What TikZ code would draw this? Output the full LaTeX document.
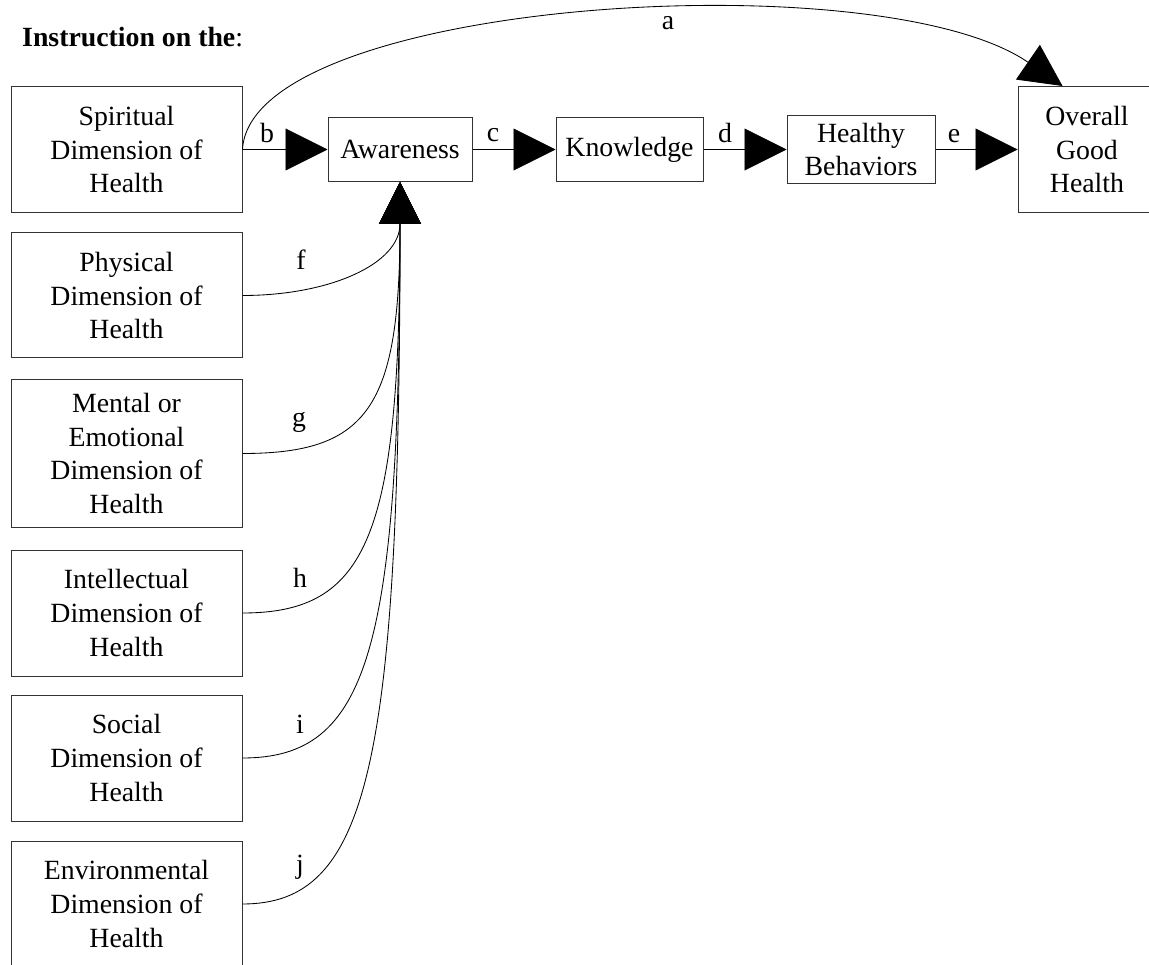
\documentclass[tikz,border=0pt]{standalone}
\usepackage{fontspec}
\setmainfont{Liberation Serif}
\usetikzlibrary{arrows.meta,calc}
\begin{document}
\begin{tikzpicture}[x=1pt,y=-1pt,
  txt/.style={font=\fontsize{27.8}{33.6}\selectfont},
  box/.style={txt, draw=black!80, line width=1pt, align=center, inner sep=0pt},
  lbl/.style={txt, inner sep=0pt, anchor=base},
  conn/.style={line width=0.85pt, -{Triangle[length=42pt,width=42pt]}}]
\useasboundingbox (0,0) rectangle (1149,965);
\clip (0,0) rectangle (1149,965);

% title
\node[txt, inner sep=0pt, anchor=base west] (title) at (22,47) {\textbf{Instruction on the}:};

% left column
\node[box, minimum width=231pt, minimum height=126pt] (spirit) at (126.5,149.5) {Spiritual\\Dimension of\\Health};
\node[box, minimum width=231pt, minimum height=125pt] (phys) at (126.5,295.5) {Physical\\Dimension of\\Health};
\node[box, minimum width=231pt, minimum height=147pt] (mental) at (126.5,453.5) {Mental or\\Emotional\\Dimension of\\Health};
\node[box, minimum width=231pt, minimum height=126pt] (intel) at (126.5,613) {Intellectual\\Dimension of\\Health};
\node[box, minimum width=231pt, minimum height=126pt] (social) at (126.5,758) {Social\\Dimension of\\Health};
\node[box, minimum width=231pt, minimum height=126pt] (env) at (126.5,904) {Environmental\\Dimension of\\Health};

% top row
\node[box, minimum width=144pt, minimum height=64pt] (aware) at (400,149.5) {Awareness};
\node[box, minimum width=147pt, minimum height=64pt] (know) at (629.5,149.5) {Knowledge};
\node[box, minimum width=148pt, minimum height=68pt] (hb) at (861,149.5) {Healthy\\Behaviors};
\node[box, minimum width=138pt, minimum height=126pt] (over) at (1087,149.5) {Overall\\Good\\Health};

% horizontal connectors
\draw[conn] (spirit.east) -- (aware.west);
\draw[conn] (aware.east) -- (know.west);
\draw[conn] (know.east) -- (hb.west);
\draw[conn] (hb.east) -- (over.west);

% arc a
\coordinate (atip) at ($(over.north west)+(45,0)$);
\draw[conn] (spirit.east) .. controls ($(spirit.east)+(8,-150)$) and ($(atip)+(-183,-126)$) .. (atip);

% curves into awareness
\draw[conn] (phys.east) .. controls ($(phys.east)+(87,0)$) and ($(aware.south)+(0,82)$) .. (aware.south);
\draw[conn] (mental.east) .. controls ($(mental.east)+(126,0)$) and ($(aware.south)+(0,225)$) .. (aware.south);
\draw[conn] (intel.east) .. controls ($(intel.east)+(126,0)$) and ($(aware.south)+(0,353)$) .. (aware.south);
\draw[conn] (social.east) .. controls ($(social.east)+(126,0)$) and ($(aware.south)+(0,469)$) .. (aware.south);
\draw[conn] (env.east) .. controls ($(env.east)+(126,0)$) and ($(aware.south)+(0,585)$) .. (aware.south);

% labels
\node[lbl] (la) at (668,30) {a};
\node[lbl] (lb) at (267,143) {b};
\node[lbl] (lc) at (493,142) {c};
\node[lbl] (ld) at (725,143) {d};
\node[lbl] (le) at (954,143) {e};
\node[lbl] (lf) at (301,270) {f};
\node[lbl] (lg) at (299,427) {g};
\node[lbl] (lh) at (300,587) {h};
\node[lbl] (li) at (300,733) {i};
\node[lbl] (lj) at (300,873) {j};
\end{tikzpicture}
\end{document}
